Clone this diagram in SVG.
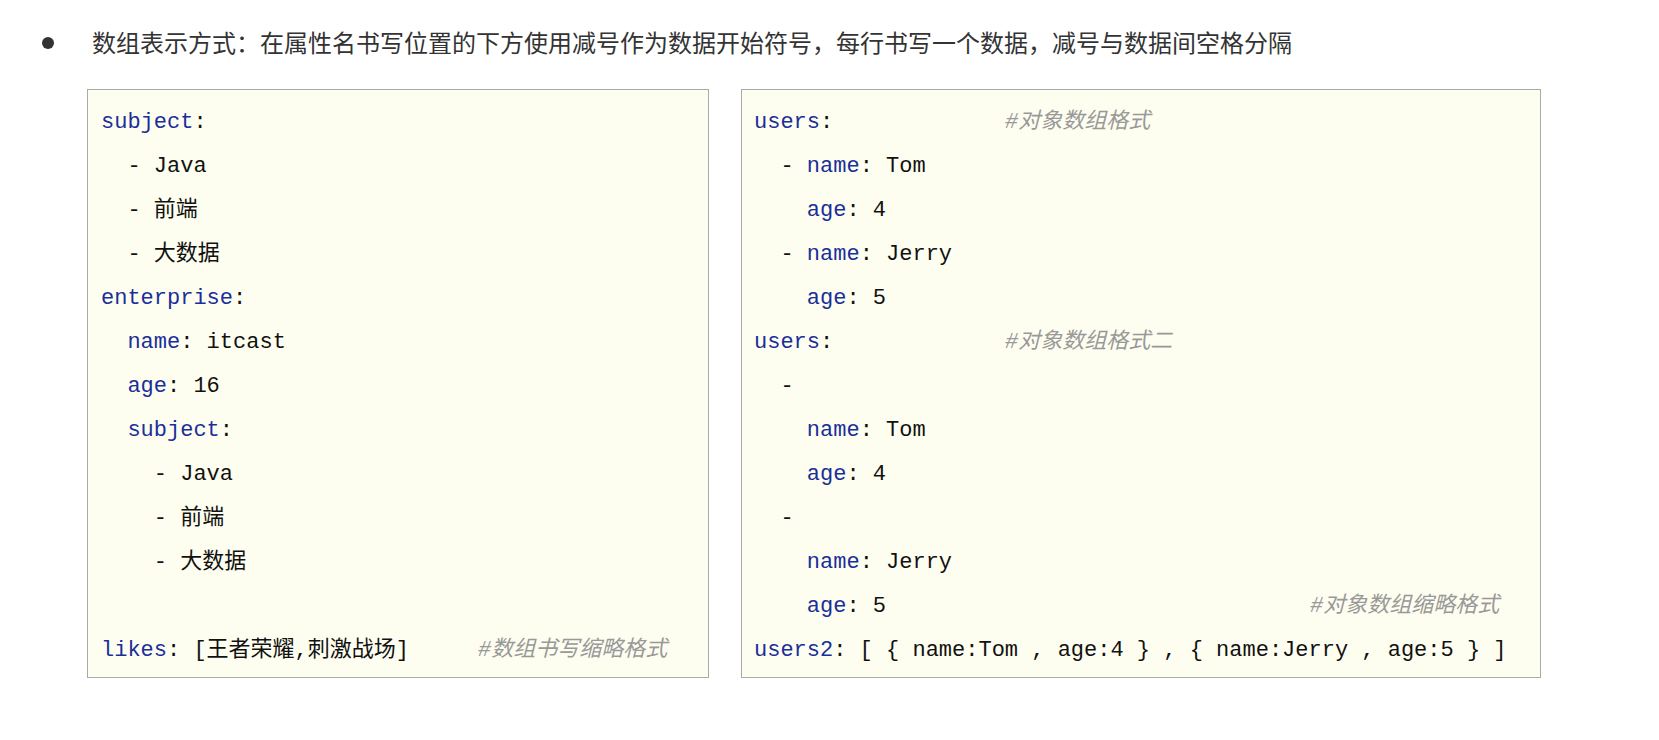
<svg xmlns="http://www.w3.org/2000/svg" width="1659" height="740" viewBox="0 0 1659 740">
<style>
.t{font-family:"Liberation Sans","Noto Sans CJK SC",sans-serif;font-size:24px;fill:#333}
.c{font-family:"Liberation Mono","Noto Sans CJK SC",monospace;font-size:22px;fill:#111;white-space:pre}
.k{fill:#1a2f9a}
.m{fill:#999;font-style:italic}
.box{fill:#fefef0;stroke:#aaa;stroke-width:1}
</style>
<rect width="1659" height="740" fill="#fff"/>
<circle cx="48" cy="43" r="6" fill="#333"/>
<text class="t" x="92" y="52">数组表示方式：在属性名书写位置的下方使用减号作为数据开始符号，每行书写一个数据，减号与数据间空格分隔</text>
<g id="left">
<rect class="box" x="87.5" y="89.5" width="621" height="588"/>
<text class="c" x="101" y="128"><tspan class="k">subject</tspan>:</text>
<text class="c" x="101" y="172">  - Java</text>
<text class="c" x="101" y="216">  - 前端</text>
<text class="c" x="101" y="260">  - 大数据</text>
<text class="c" x="101" y="304"><tspan class="k">enterprise</tspan>:</text>
<text class="c" x="101" y="348">  <tspan class="k">name</tspan>: itcast</text>
<text class="c" x="101" y="392">  <tspan class="k">age</tspan>: 16</text>
<text class="c" x="101" y="436">  <tspan class="k">subject</tspan>:</text>
<text class="c" x="101" y="480">    - Java</text>
<text class="c" x="101" y="524">    - 前端</text>
<text class="c" x="101" y="568">    - 大数据</text>
<text class="c" x="101" y="656"><tspan class="k">likes</tspan>: [王者荣耀,刺激战场]</text>
<text class="c m" x="478" y="656">#数组书写缩略格式</text>
</g>
<g id="right">
<rect class="box" x="741.5" y="89.5" width="799" height="588"/>
<text class="c" x="754" y="128"><tspan class="k">users</tspan>:</text>
<text class="c m" x="1005" y="128">#对象数组格式</text>
<text class="c" x="754" y="172">  - <tspan class="k">name</tspan>: Tom</text>
<text class="c" x="754" y="216">    <tspan class="k">age</tspan>: 4</text>
<text class="c" x="754" y="260">  - <tspan class="k">name</tspan>: Jerry</text>
<text class="c" x="754" y="304">    <tspan class="k">age</tspan>: 5</text>
<text class="c" x="754" y="348"><tspan class="k">users</tspan>:</text>
<text class="c m" x="1005" y="348">#对象数组格式二</text>
<text class="c" x="754" y="392">  -</text>
<text class="c" x="754" y="436">    <tspan class="k">name</tspan>: Tom</text>
<text class="c" x="754" y="480">    <tspan class="k">age</tspan>: 4</text>
<text class="c" x="754" y="524">  -</text>
<text class="c" x="754" y="568">    <tspan class="k">name</tspan>: Jerry</text>
<text class="c" x="754" y="612">    <tspan class="k">age</tspan>: 5</text>
<text class="c m" x="1310" y="612">#对象数组缩略格式</text>
<text class="c" x="754" y="656"><tspan class="k">users2</tspan>: [ { name:Tom , age:4 } , { name:Jerry , age:5 } ]</text>
</g>
</svg>
